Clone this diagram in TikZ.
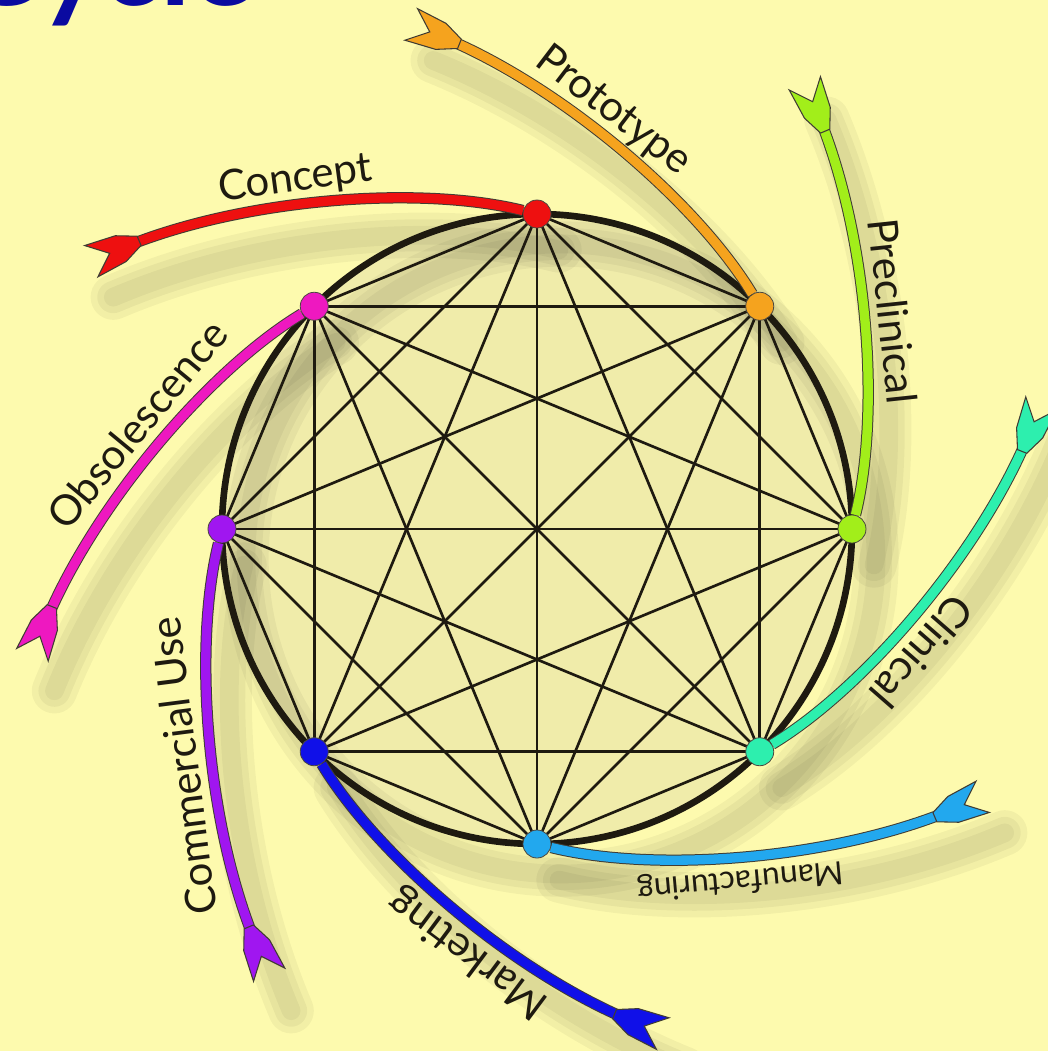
\documentclass[tikz,border=0pt]{standalone}
\usepackage{fontspec}
\setmainfont{Lato}
\usetikzlibrary{decorations.markings}
\definecolor{paper}{HTML}{FDFAAE}
\definecolor{disc}{HTML}{F0ECAA}
\definecolor{ink}{HTML}{1E1A10}
\definecolor{titleblue}{HTML}{0A0AA0}
\definecolor{cConcept}{HTML}{EE1010}
\definecolor{cProto}{HTML}{F5A31E}
\definecolor{cPre}{HTML}{A2EE1A}
\definecolor{cClin}{HTML}{2DEFAE}
\definecolor{cManu}{HTML}{22A8EE}
\definecolor{cMark}{HTML}{1010E8}
\definecolor{cComm}{HTML}{A016F0}
\definecolor{cObs}{HTML}{EE18C0}
\pgfdeclarelayer{bg}
\pgfdeclarelayer{edges}
\pgfsetlayers{bg,edges,main}

\begin{document}
\begin{tikzpicture}[
		x=0.75pt,y=0.75pt,
		dot/.style={circle,draw=ink!80,line width=.6pt,minimum size=21pt,inner sep=0pt},
		chord/.style={ink,line width=2pt},
		rim/.style={ink,line width=5pt},
		shaft/.style={ink!85,line width=8.5pt,shorten <=22pt},
		fletch/.style={postaction={decorate,decoration={markings,mark=at position 0 with
					{\filldraw[fill=#1,draw=ink!85,line width=.8pt,shorten <=0pt]
						(0,17) -- (32,14) -- (52,5) -- (52,-5) -- (32,-14) -- (0,-17) -- (20,0) -- cycle;}}}},
		ghost/.style={black,opacity=.045,line cap=round},
		lbl/.style={sloped,above=3pt,allow upside down,inner sep=2pt,text=ink,text depth=.25em},
		]
		\useasboundingbox (-537,-522) rectangle (511,529);
		
		% stages round the wheel
		\foreach \a/\nm/\col in {90/concept/cConcept,45/prototype/cProto,0/preclinical/cPre,
			-45/clinical/cClin,-90/manufacturing/cManu,-135/marketing/cMark,
			180/commercial/cComm,135/obsolescence/cObs}
		{\node[dot,fill=\col] (\nm) at (\a:315) {};
			\coordinate (\nm-tail) at ({\a+59}:520);}
		
		\begin{scope}
			\clip (-537,-522) rectangle (511,529);
			\node[anchor=base west,inner sep=0pt,text=titleblue,
			font=\bfseries\fontsize{92}{92}\selectfont] (title) at (-578,523) {Cycle};
		\end{scope}
		
		\begin{pgfonlayer}{bg}
			\fill[paper] (-537,-522) rectangle (511,529);
			\fill[disc] (0,0) circle (315);
			\foreach \w in {34,24,14}
			{\draw[ghost,line width=\w pt] (24,-30) circle (315);
				\foreach \a in {90,45,0,-45,-90,-135,180,135}
				\draw[ghost,line width=\w pt,shift={(22,-36)}] ({\a+59}:520)
				.. controls ({\a+42.3}:446) and ({\a+19.2}:365) .. (\a:315);}
		\end{pgfonlayer}
		
		\begin{pgfonlayer}{edges}
			% every stage linked to every other
			\foreach \u [count=\i] in {concept,prototype,preclinical,clinical,manufacturing,marketing,commercial,obsolescence}
			\foreach \v [count=\j] in {concept,prototype,preclinical,clinical,manufacturing,marketing,commercial,obsolescence}
			{\ifnum\j>\i \draw[chord] (\u.center) -- (\v.center); \fi}
			\draw[rim] (0,0) circle (315);
			
			\foreach \a/\nm/\col/\txt/\p/\fs in {90/concept/cConcept/Concept/.45/31.5,
				45/prototype/cProto/Prototype/.45/31.5,0/preclinical/cPre/Preclinical/.5/31.5,
				-45/clinical/cClin/Clinical/.57/31.5,-90/manufacturing/cManu/Manufacturing/.53/24,
				-135/marketing/cMark/Marketing/.43/31.5,180/commercial/cComm/Commercial Use/.46/31.5,
				135/obsolescence/cObs/Obsolescence/.52/31.5}
			{\draw[shaft] (\nm-tail) .. controls ({\a+42.3}:446) and ({\a+19.2}:365) .. (\nm);
				\draw[\col,line width=7pt,shorten <=22pt,fletch=\col]
				(\nm-tail) .. controls ({\a+42.3}:446) and ({\a+19.2}:365) .. (\nm)
				node[lbl,pos=\p,font=\fontsize{\fs}{\fs}\selectfont] {\txt};}
		\end{pgfonlayer}
\end{tikzpicture}
\end{document}
